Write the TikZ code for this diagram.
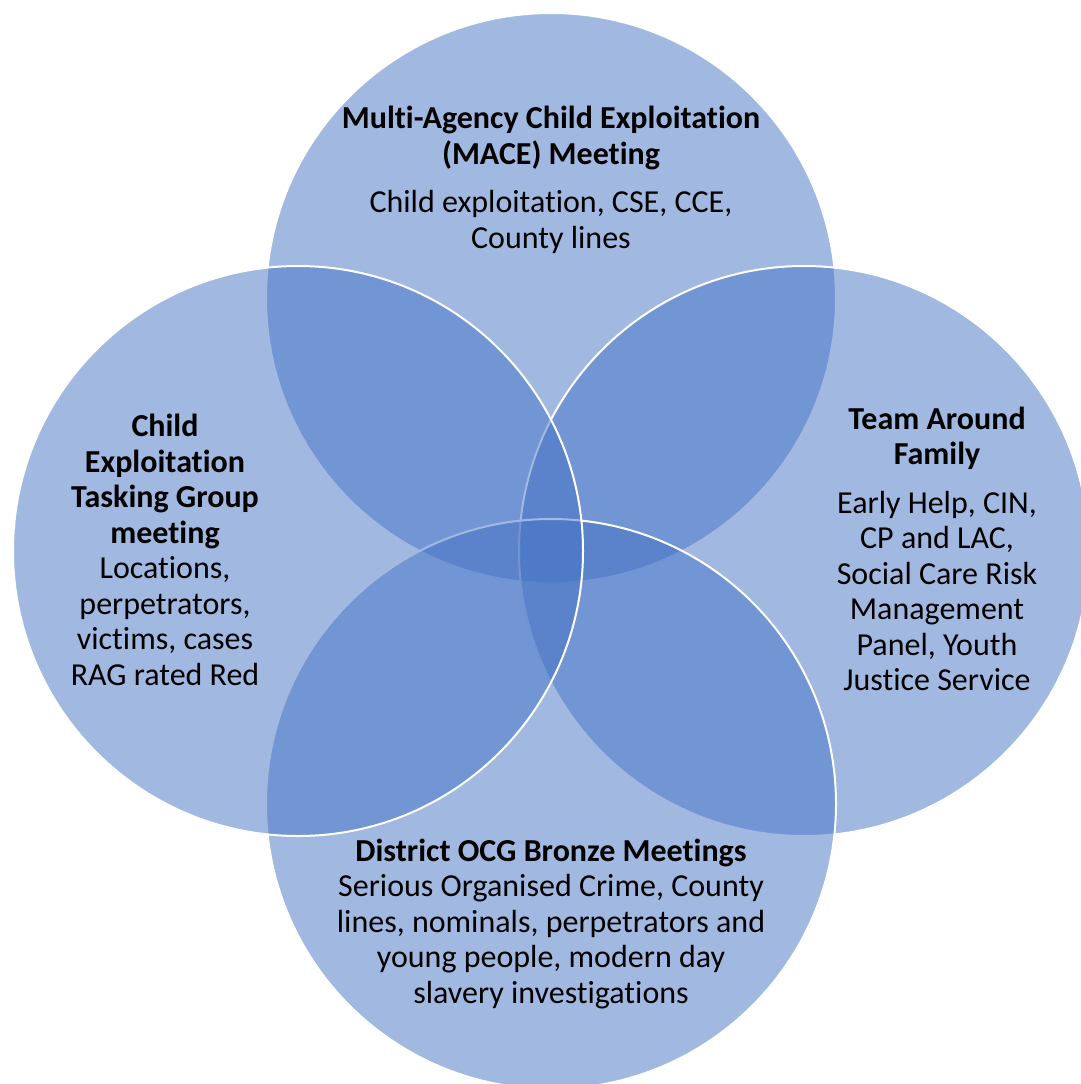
\documentclass[tikz,border=0pt]{standalone}
\usepackage{fontspec}
\setmainfont{Carlito}[Ligatures=NoCommon]
\definecolor{venn}{HTML}{4472C4}
\begin{document}
\begin{tikzpicture}[x=1pt,y=-1pt,line join=round,font=\fontsize{32}{35.5}\selectfont]
\tikzset{ring/.style={fill=venn,fill opacity=0.5,draw=white,line width=2pt},
  txt/.style={align=center,inner sep=0pt,text=black}}
\useasboundingbox (0,0) rectangle (1080,1084);
% the four meetings, drawn top, right, bottom, left
\foreach \cx/\cy in {551/298,804/551,551/804,298/551}
  \draw[ring] (\cx,\cy) circle[radius=285pt];
\node[txt] (mace) at (551,180) {\textbf{Multi-Agency Child Exploitation}\\\textbf{(MACE) Meeting}\\[13pt]Child exploitation, CSE, CCE,\\County lines};
\node[txt] (cetg) at (165,550) {\textbf{Child}\\\textbf{Exploitation}\\\textbf{Tasking Group}\\\textbf{meeting}\\Locations,\\perpetrators,\\victims, cases\\RAG rated Red};
\node[txt] (taf) at (937,549) {\textbf{Team Around}\\\textbf{Family}\\[13pt]Early Help, CIN,\\CP and LAC,\\Social Care Risk\\Management\\Panel, Youth\\Justice Service};
\node[txt] (ocg) at (551,924) {\textbf{District OCG Bronze Meetings}\\Serious Organised Crime, County\\lines, nominals, perpetrators and\\young people, modern day\\slavery investigations};
\end{tikzpicture}
\end{document}
